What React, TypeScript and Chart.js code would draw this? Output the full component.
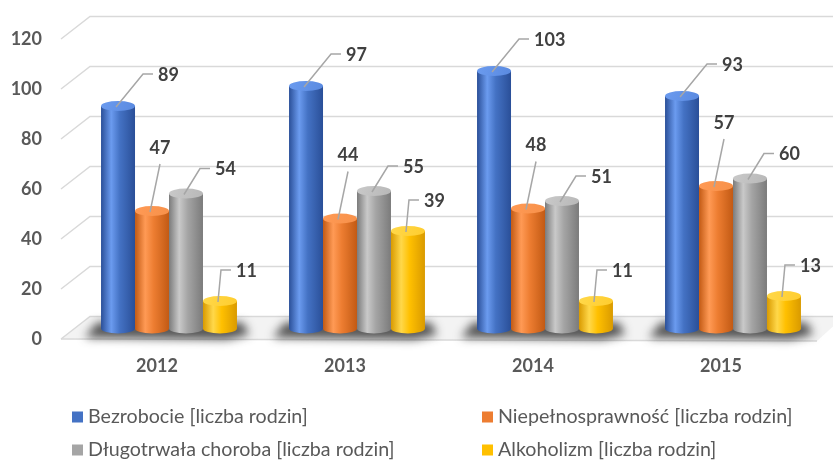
import React, { useEffect, useRef } from "react";
import { Chart, registerables } from "chart.js";

Chart.register(...registerables);

// ---------- data ----------
const categories = ["2012", "2013", "2014", "2015"];
const seriesNames = [
  "Bezrobocie [liczba rodzin]",
  "Niepełnosprawność [liczba rodzin]",
  "Długotrwała choroba [liczba rodzin]",
  "Alkoholizm [liczba rodzin]",
];
const bezrobocie = [89, 97, 103, 93];
const niepelnosprawnosc = [47, 44, 48, 57];
const dlugotrwalaChoroba = [54, 55, 51, 60];
const alkoholizm = [11, 39, 11, 13];
const yTickValues = [0, 20, 40, 60, 80, 100, 120];

// ---------- styles ----------
const palette = [
  { base: "#4472C4", light: "#6b9bef", dark: "#2a4f98", top: "#5a8ae0" },
  { base: "#ED7D31", light: "#ff9a55", dark: "#c25a14", top: "#f7914a" },
  { base: "#A5A5A5", light: "#c9c9c9", dark: "#7b7b7b", top: "#b8b8b8" },
  { base: "#FFC000", light: "#ffd84a", dark: "#d99a00", top: "#ffcd2e" },
];
const labelStyle = [
  { dx: 27, dy: -33, mode: "side" },
  { dx: 10, dy: -48, mode: "above" },
  { dx: 16, dy: -26, mode: "side" },
  { dx: 3, dy: -32, mode: "side" },
];
const FONT = "Lato, 'Open Sans', sans-serif";
const FRONT_OFF = 10.5; // front edge of the 3D grid relative to bar plane
const BACK_OFF = -12; // back wall relative to bar plane
const DEPTH_X = 29;

const floorAndGrid = {
  id: "floorAndGrid",
  beforeDatasetsDraw(chart: any) {
    const ctx = chart.ctx as CanvasRenderingContext2D;
    const ys = chart.scales.y;
    const W = chart.width;
    const frontX = chart.chartArea.left - 14;
    const backX = frontX + DEPTH_X;
    const zero = ys.getPixelForValue(0);
    ctx.save();
    // floor
    ctx.fillStyle = "#f3f3f3";
    ctx.beginPath();
    ctx.moveTo(frontX, zero + FRONT_OFF);
    ctx.lineTo(backX, zero + BACK_OFF);
    ctx.lineTo(W, zero + BACK_OFF);
    ctx.lineTo(W, zero + BACK_OFF + 10);
    ctx.lineTo(W - 16, zero + FRONT_OFF + 2);
    ctx.closePath();
    ctx.fill();
    ctx.strokeStyle = "#d9d9d9";
    ctx.lineWidth = 1.5;
    ctx.beginPath();
    ctx.moveTo(frontX, zero + FRONT_OFF);
    ctx.lineTo(W - 16, zero + FRONT_OFF + 2);
    ctx.stroke();
    // grid lines (back wall) with stubs
    yTickValues.forEach((v) => {
      const yb = ys.getPixelForValue(v);
      ctx.beginPath();
      ctx.moveTo(frontX, yb + FRONT_OFF);
      ctx.lineTo(backX, yb + BACK_OFF);
      ctx.lineTo(W, yb + BACK_OFF);
      ctx.stroke();
    });
    // shadows under groups
    const m0 = chart.getDatasetMeta(0);
    const m3 = chart.getDatasetMeta(chart.data.datasets.length - 1);
    categories.forEach((_, i) => {
      const b0: any = m0.data[i];
      const b3: any = m3.data[i];
      const l = b0.x - b0.width / 2;
      const r = b3.x + b3.width / 2;
      ctx.save();
      ctx.filter = "blur(5px)";
      ctx.fillStyle = "rgba(30,30,30,0.75)";
      ctx.beginPath();
      ctx.moveTo(l - 16, zero + 9);
      ctx.lineTo(l - 4, zero - 6);
      ctx.lineTo(r + 6, zero - 6);
      ctx.lineTo(r + 12, zero + 6);
      ctx.lineTo(r - 10, zero + 11);
      ctx.closePath();
      ctx.fill();
      ctx.restore();
    });
    ctx.restore();
  },
};

const cylinders = {
  id: "cylinders",
  afterDatasetsDraw(chart: any) {
    const ctx = chart.ctx as CanvasRenderingContext2D;
    chart.data.datasets.forEach((_: any, d: number) => {
      const meta = chart.getDatasetMeta(d);
      const c = palette[d];
      meta.data.forEach((bar: any) => {
        const { x, y, base, width } = bar.getProps(["x", "y", "base", "width"], true);
        const rx = width / 2;
        const ry = 5;
        const l = x - rx;
        const r = x + rx;
        ctx.save();
        const g = ctx.createLinearGradient(l, 0, r, 0);
        g.addColorStop(0, c.dark);
        g.addColorStop(0.3, c.light);
        g.addColorStop(0.55, c.base);
        g.addColorStop(1, c.dark);
        ctx.fillStyle = g;
        ctx.beginPath();
        ctx.moveTo(l, y);
        ctx.lineTo(l, base);
        ctx.ellipse(x, base, rx, ry, 0, Math.PI, 0, true);
        ctx.lineTo(r, y);
        ctx.closePath();
        ctx.fill();
        const tg = ctx.createLinearGradient(l, y - ry, r, y + ry);
        tg.addColorStop(0, c.light);
        tg.addColorStop(1, c.top);
        ctx.fillStyle = tg;
        ctx.beginPath();
        ctx.ellipse(x, y, rx, ry, 0, 0, Math.PI * 2);
        ctx.fill();
        ctx.restore();
      });
    });
  },
};

const dataLabels = {
  id: "dataLabels",
  afterDatasetsDraw(chart: any) {
    const ctx = chart.ctx as CanvasRenderingContext2D;
    ctx.save();
    ctx.font = `bold 18px ${FONT}`;
    ctx.fillStyle = "#404040";
    ctx.strokeStyle = "#a6a6a6";
    ctx.lineWidth = 1.5;
    chart.data.datasets.forEach((ds: any, d: number) => {
      const meta = chart.getDatasetMeta(d);
      const st = labelStyle[d];
      meta.data.forEach((bar: any, i: number) => {
        const sx = bar.x - 2;
        const sy = bar.y + 1;
        const ex = sx + st.dx;
        const ey = sy + st.dy;
        const txt = String(ds.data[i]);
        ctx.beginPath();
        ctx.moveTo(sx, sy);
        ctx.lineTo(ex, ey);
        if (st.mode === "side") {
          ctx.lineTo(ex + 10, ey);
          ctx.stroke();
          ctx.textAlign = "left";
          ctx.textBaseline = "middle";
          ctx.fillText(txt, ex + 15, ey + 1);
        } else {
          ctx.stroke();
          ctx.textAlign = "center";
          ctx.textBaseline = "middle";
          ctx.fillText(txt, ex, ey - 16);
        }
      });
    });
    ctx.restore();
  },
};

const legendPlugin = {
  id: "customLegend",
  afterDraw(chart: any) {
    const ctx = chart.ctx as CanvasRenderingContext2D;
    ctx.save();
    let size = 20;
    ctx.font = `${size}px ${FONT}`;
    const w = ctx.measureText(seriesNames[0]).width;
    size = (size * 220) / w;
    ctx.font = `${size}px ${FONT}`;
    const cols = [72, 482];
    const rows = [417, 450];
    chart.data.datasets.forEach((ds: any, d: number) => {
      const cx = cols[d % 2];
      const cy = rows[Math.floor(d / 2)];
      ctx.fillStyle = palette[d].base;
      ctx.fillRect(cx, cy - 5.5, 11, 11);
      ctx.fillStyle = "#595959";
      ctx.textAlign = "left";
      ctx.textBaseline = "middle";
      ctx.fillText(ds.label, cx + 16, cy);
    });
    ctx.restore();
  },
};

export default function App() {
  const ref = useRef<HTMLCanvasElement | null>(null);
  useEffect(() => {
    if (!ref.current) return;
    const seriesValues = [bezrobocie, niepelnosprawnosc, dlugotrwalaChoroba, alkoholizm];
    const chart = new Chart(ref.current, {
      type: "bar",
      data: {
        labels: categories,
        datasets: seriesValues.map((vals, i) => ({
          label: seriesNames[i],
          data: vals,
          backgroundColor: "rgba(0,0,0,0)",
          borderWidth: 0,
          barPercentage: 1,
          categoryPercentage: 0.723,
        })),
      },
      options: {
        animation: false,
        responsive: false,
        maintainAspectRatio: false,
        layout: { padding: { top: 28.5, right: 6, left: 0, bottom: 82.5 } },
        plugins: {
          legend: { display: false },
          tooltip: { enabled: false },
        },
        scales: {
          x: {
            grid: { display: false, drawTicks: false },
            border: { display: false },
            ticks: {
              labelOffset: -12,
              padding: 27,
              color: "#595959",
              font: { family: FONT, size: 18, weight: "bold" },
            },
            afterFit(s: any) {
              s.height = 50;
              s.paddingLeft = 0;
              s.paddingRight = 0;
            },
          },
          y: {
            min: 0,
            max: 120,
            grid: { display: false, drawTicks: false },
            border: { display: false },
            ticks: {
              stepSize: 20,
              padding: 33,
              labelOffset: FRONT_OFF,
              color: "#595959",
              font: { family: FONT, size: 18, weight: "bold" },
            },
            afterFit(s: any) {
              s.width = 75;
              s.paddingTop = 0;
              s.paddingBottom = 0;
            },
          },
        },
      },
      plugins: [floorAndGrid, cylinders, dataLabels, legendPlugin],
    });
    return () => chart.destroy();
  }, []);
  return (
    <div style={{ position: "fixed", left: 0, top: 0, width: 833, height: 461, background: "#fff" }}>
      <canvas ref={ref} width={833} height={461} style={{ display: "block" }} />
    </div>
  );
}
